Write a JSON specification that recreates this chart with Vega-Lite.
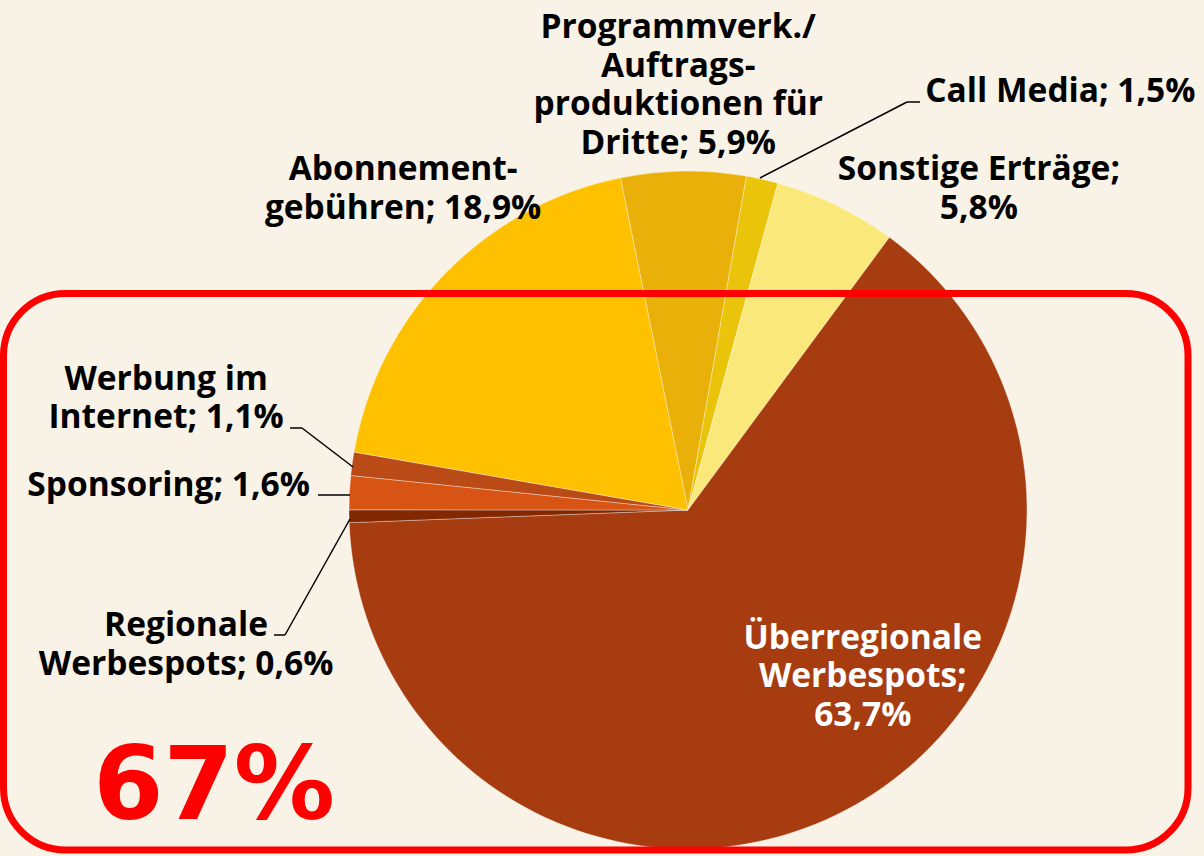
{
  "$schema": "https://vega.github.io/schema/vega-lite/v6.json",
  "width": 1032,
  "height": 692,
  "autosize": "none",
  "padding": {"left": 172, "top": 164, "right": 0, "bottom": 0},
  "background": "#F8F2E7",
  "config": {"view": {"stroke": null}, "text": {"font": "Open Sans"}},
  "layer": [
    {
      "data": {
        "values": [
          {"name": "Programmverk./Auftragsproduktionen für Dritte", "share": 5.9, "label": "Programmverk./\nAuftrags-\nproduktionen für\nDritte; 5,9%"},
          {"name": "Call Media", "share": 1.5, "label": "Call Media; 1,5%"},
          {"name": "Sonstige Erträge", "share": 5.8, "label": "Sonstige Erträge;\n5,8%"},
          {"name": "Überregionale Werbespots", "share": 63.7, "label": "Überregionale\nWerbespots;\n63,7%"},
          {"name": "Regionale Werbespots", "share": 0.6, "label": "Regionale\nWerbespots; 0,6%"},
          {"name": "Sponsoring", "share": 1.6, "label": "Sponsoring; 1,6%"},
          {"name": "Werbung im Internet", "share": 1.1, "label": "Werbung im\nInternet; 1,1%"},
          {"name": "Abonnementgebühren", "share": 18.9, "label": "Abonnement-\ngebühren; 18,9%"}
        ]
      },
      "transform": [{"stack": "share", "groupby": [], "as": ["s0", "s1"]}],
      "encoding": {
        "theta": {"field": "share", "type": "quantitative", "stack": true, "scale": {"range": [-0.20071, 6.08248], "nice": false, "zero": true}},
        "order": {"field": "s0", "type": "quantitative"}
      },
      "layer": [
        {
          "mark": {"type": "arc", "outerRadius": 339, "stroke": "#ffffff", "strokeOpacity": 0.35, "strokeWidth": 1},
          "encoding": {
            "color": {
              "field": "name", "type": "nominal", "legend": null,
              "scale": {
                "domain": ["Programmverk./Auftragsproduktionen für Dritte", "Call Media", "Sonstige Erträge", "Überregionale Werbespots", "Regionale Werbespots", "Sponsoring", "Werbung im Internet", "Abonnementgebühren"],
                "range": ["#EAB00A", "#EAC40A", "#FAE97A", "#A63C10", "#822800", "#D75415", "#BA4A16", "#FFC000"]
              }
            }
          }
        },
        {
          "mark": {"type": "text", "radius": 424, "dx": -4, "dy": -58, "fontSize": 33.5, "fontWeight": "bold", "lineHeight": 38.5, "lineBreak": "\n", "align": "center", "baseline": "middle", "fill": "#000000"},
          "encoding": {"text": {"condition": {"test": "datum.name === 'Programmverk./Auftragsproduktionen für Dritte'", "field": "label"}, "value": ""}}
        },
        {
          "mark": {"type": "text", "radius": 380, "dx": 154, "dy": -47, "fontSize": 33.5, "fontWeight": "bold", "lineHeight": 38.5, "lineBreak": "\n", "align": "left", "baseline": "middle", "fill": "#000000"},
          "encoding": {"text": {"condition": {"test": "datum.name === 'Call Media'", "field": "label"}, "value": ""}}
        },
        {
          "mark": {"type": "text", "radius": 400, "dx": 116, "dy": 20, "fontSize": 33.5, "fontWeight": "bold", "lineHeight": 38.5, "lineBreak": "\n", "align": "center", "baseline": "middle", "fill": "#000000"},
          "encoding": {"text": {"condition": {"test": "datum.name === 'Sonstige Erträge'", "field": "label"}, "value": ""}}
        },
        {
          "mark": {"type": "text", "radius": 220, "dx": 72, "dy": -66, "fontSize": 33.5, "fontWeight": "bold", "lineHeight": 38.5, "lineBreak": "\n", "align": "center", "baseline": "middle", "fill": "#ffffff"},
          "encoding": {"text": {"condition": {"test": "datum.name === 'Überregionale Werbespots'", "field": "label"}, "value": ""}}
        },
        {
          "mark": {"type": "text", "radius": 440, "dx": -62, "dy": 108, "fontSize": 33.5, "fontWeight": "bold", "lineHeight": 38.5, "lineBreak": "\n", "align": "center", "baseline": "middle", "fill": "#000000"},
          "encoding": {"text": {"condition": {"test": "datum.name === 'Regionale Werbespots'", "field": "label"}, "value": ""}}
        },
        {
          "mark": {"type": "text", "radius": 440, "dx": -80, "dy": -1, "fontSize": 33.5, "fontWeight": "bold", "lineHeight": 38.5, "lineBreak": "\n", "align": "center", "baseline": "middle", "fill": "#000000"},
          "encoding": {"text": {"condition": {"test": "datum.name === 'Sponsoring'", "field": "label"}, "value": ""}}
        },
        {
          "mark": {"type": "text", "radius": 440, "dx": -86, "dy": -70, "fontSize": 33.5, "fontWeight": "bold", "lineHeight": 38.5, "lineBreak": "\n", "align": "center", "baseline": "middle", "fill": "#000000"},
          "encoding": {"text": {"condition": {"test": "datum.name === 'Werbung im Internet'", "field": "label"}, "value": ""}}
        },
        {
          "mark": {"type": "text", "radius": 400, "dx": 2, "dy": -61, "fontSize": 33.5, "fontWeight": "bold", "lineHeight": 38.5, "lineBreak": "\n", "align": "center", "baseline": "middle", "fill": "#000000"},
          "encoding": {"text": {"condition": {"test": "datum.name === 'Abonnementgebühren'", "field": "label"}, "value": ""}}
        }
      ]
    },
    {
      "data": {"values": [{"note": "Werbeerlöse"}]},
      "mark": {"type": "rect", "x": -168.5, "y": 129.5, "x2": 1016, "y2": 686, "cornerRadius": 62, "fill": "transparent", "stroke": "#FF0000", "strokeWidth": 7},
      "encoding": {}
    },
    {
      "data": {"values": [{"total": "67%"}]},
      "mark": {"type": "text", "x": 42, "y": 655, "align": "center", "baseline": "alphabetic", "font": "DejaVu Sans", "fontWeight": "bold", "fontSize": 101, "fill": "#FF0000"},
      "encoding": {"text": {"field": "total", "type": "nominal"}}
    },
    {"data": {"values": [{"leader": "Call Media"}]}, "mark": {"type": "rule", "stroke": "#000000", "strokeWidth": 1.5}, "encoding": {"x": {"value": 588}, "y": {"value": 14}, "x2": {"value": 735}, "y2": {"value": -62}}},
    {"data": {"values": [{"leader": "Call Media"}]}, "mark": {"type": "rule", "stroke": "#000000", "strokeWidth": 1.5}, "encoding": {"x": {"value": 735}, "y": {"value": -62}, "x2": {"value": 748}, "y2": {"value": -62}}},
    {"data": {"values": [{"leader": "Werbung im Internet"}]}, "mark": {"type": "rule", "stroke": "#000000", "strokeWidth": 1.5}, "encoding": {"x": {"value": 181}, "y": {"value": 303}, "x2": {"value": 130}, "y2": {"value": 264}}},
    {"data": {"values": [{"leader": "Werbung im Internet"}]}, "mark": {"type": "rule", "stroke": "#000000", "strokeWidth": 1.5}, "encoding": {"x": {"value": 130}, "y": {"value": 264}, "x2": {"value": 118}, "y2": {"value": 264}}},
    {"data": {"values": [{"leader": "Sponsoring"}]}, "mark": {"type": "rule", "stroke": "#000000", "strokeWidth": 1.5}, "encoding": {"x": {"value": 178}, "y": {"value": 331}, "x2": {"value": 146}, "y2": {"value": 331}}},
    {"data": {"values": [{"leader": "Regionale Werbespots"}]}, "mark": {"type": "rule", "stroke": "#000000", "strokeWidth": 1.5}, "encoding": {"x": {"value": 178}, "y": {"value": 355}, "x2": {"value": 113}, "y2": {"value": 471}}},
    {"data": {"values": [{"leader": "Regionale Werbespots"}]}, "mark": {"type": "rule", "stroke": "#000000", "strokeWidth": 1.5}, "encoding": {"x": {"value": 113}, "y": {"value": 471}, "x2": {"value": 102}, "y2": {"value": 471}}}
  ]
}
